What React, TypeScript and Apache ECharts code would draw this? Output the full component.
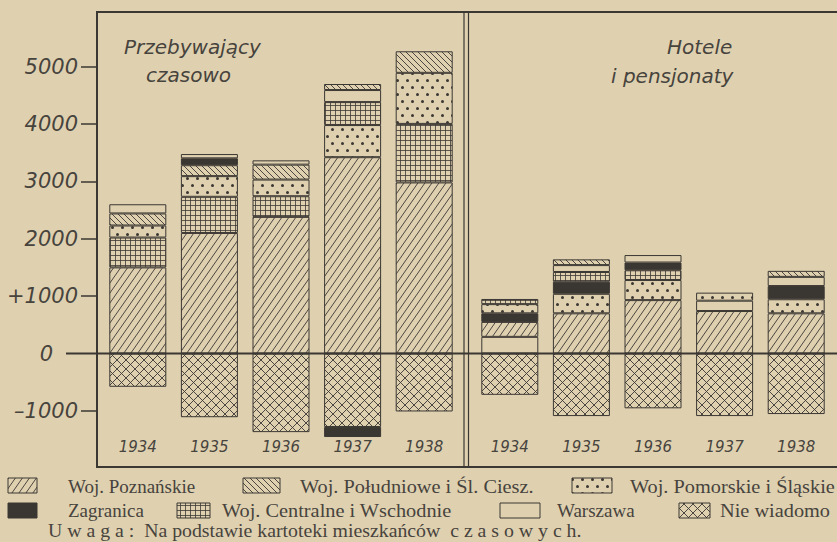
import React, { useEffect, useRef } from 'react';
import * as echarts from 'echarts';

// ---------- data ----------
const years = ['1934', '1935', '1936', '1937', '1938'];

const categoryLabels: Record<string, string> = {
  poz: 'Woj. Poznańskie',
  pol: 'Woj. Południowe i Śl. Ciesz.',
  pom: 'Woj. Pomorskie i Śląskie',
  zag: 'Zagranica',
  cen: 'Woj. Centralne i Wschodnie',
  war: 'Warszawa',
  nie: 'Nie wiadomo',
};

// "Przebywający czasowo": layers from the zero line upward
const temporary1934 = [['poz', 1500], ['cen', 520], ['pom', 210], ['pol', 210], ['war', 160]];
const temporary1935 = [['poz', 2100], ['cen', 630], ['pom', 360], ['pol', 190], ['zag', 120], ['war', 75]];
const temporary1936 = [['poz', 2380], ['cen', 360], ['pom', 290], ['pol', 260], ['war', 75]];
const temporary1937 = [['poz', 3420], ['pom', 560], ['cen', 400], ['war', 210], ['pol', 105]];
const temporary1938 = [['poz', 2980], ['cen', 1020], ['pom', 890], ['pol', 375]];
// below zero, from the zero line downward
const temporaryUnknown = [-580, -1110, -1370, -1280, -1010];
const temporaryAbroadBelow = [0, 0, 0, -175, 0];

// "Hotele i pensjonaty"
const hotels1934 = [['war', 290], ['poz', 260], ['zag', 150], ['pom', 160], ['cen', 90]];
const hotels1935 = [['poz', 700], ['pom', 340], ['zag', 210], ['cen', 170], ['war', 120], ['pol', 100]];
const hotels1936 = [['poz', 930], ['pom', 350], ['cen', 170], ['zag', 135], ['war', 130]];
const hotels1937 = [['poz', 740], ['war', 180], ['pom', 140]];
const hotels1938 = [['poz', 700], ['pom', 245], ['zag', 230], ['war', 160], ['pol', 105]];
const hotelsUnknown = [-720, -1090, -955, -1090, -1055];

const yTickValues = [-1000, 0, 1000, 2000, 3000, 4000, 5000];

const PAPER = '#dfd1b0';
const INK = '#3b3733';
const TEXT = '#47433d';

function tile(w: number, h: number, draw: (c: CanvasRenderingContext2D) => void) {
  const c = document.createElement('canvas');
  c.width = w;
  c.height = h;
  const ctx = c.getContext('2d')!;
  ctx.fillStyle = PAPER;
  ctx.fillRect(0, 0, w, h);
  ctx.strokeStyle = INK;
  ctx.fillStyle = INK;
  draw(ctx);
  return { image: c, repeat: 'repeat', imageWidth: w, imageHeight: h } as any;
}

function makePatterns(): Record<string, any> {
  return {
    poz: tile(7, 10, (c) => {
      c.lineWidth = 0.9;
      c.beginPath();
      for (let k = -1; k <= 1; k++) {
        c.moveTo(k * 7, 10);
        c.lineTo((k + 1) * 7, 0);
      }
      c.stroke();
    }),
    pol: tile(6, 6, (c) => {
      c.lineWidth = 0.9;
      c.beginPath();
      for (let k = -1; k <= 1; k++) {
        c.moveTo(k * 6, 0);
        c.lineTo((k + 1) * 6, 6);
      }
      c.stroke();
    }),
    pom: tile(10, 14, (c) => {
      c.beginPath();
      c.arc(2.5, 3.5, 1.5, 0, Math.PI * 2);
      c.fill();
      c.beginPath();
      c.arc(7.5, 10.5, 1.5, 0, Math.PI * 2);
      c.fill();
    }),
    cen: tile(5, 5, (c) => {
      c.lineWidth = 0.8;
      c.beginPath();
      c.moveTo(0.5, 0);
      c.lineTo(0.5, 5);
      c.moveTo(0, 0.5);
      c.lineTo(5, 0.5);
      c.stroke();
    }),
    zag: '#3a3632',
    war: PAPER,
    nie: tile(9, 9, (c) => {
      c.lineWidth = 0.9;
      c.beginPath();
      for (let k = -1; k <= 1; k++) {
        c.moveTo(k * 9, 0);
        c.lineTo(k * 9 + 9, 9);
        c.moveTo(k * 9, 9);
        c.lineTo(k * 9 + 9, 0);
      }
      c.stroke();
    }),
  };
}

export default function App() {
  const ref = useRef<HTMLDivElement>(null);

  useEffect(() => {
    document.body.style.margin = '0';
    const chart = echarts.init(ref.current!, null, { renderer: 'svg' });
    const patterns = makePatterns();

    const panels = [
      { stacks: [temporary1934, temporary1935, temporary1936, temporary1937, temporary1938], below: [['nie', temporaryUnknown], ['zag', temporaryAbroadBelow]] },
      { stacks: [hotels1934, hotels1935, hotels1936, hotels1937, hotels1938], below: [['nie', hotelsUnknown]] },
    ];

    const series: any[] = [];
    panels.forEach((panel, p) => {
      const maxLayers = Math.max(...panel.stacks.map((s) => s.length));
      for (let k = 0; k < maxLayers; k++) {
        series.push({
          type: 'bar',
          xAxisIndex: p,
          yAxisIndex: p,
          stack: 'panel' + p,
          barWidth: 57,
          silent: true,
          itemStyle: { borderColor: INK, borderWidth: 1 },
          data: panel.stacks.map((s) =>
            s[k] ? { value: s[k][1], name: categoryLabels[s[k][0] as string], itemStyle: { color: patterns[s[k][0] as string] } } : '-'
          ),
        });
      }
      panel.below.forEach(([key, values]) => {
        series.push({
          type: 'bar',
          xAxisIndex: p,
          yAxisIndex: p,
          stack: 'panel' + p,
          barWidth: 57,
          silent: true,
          itemStyle: { borderColor: INK, borderWidth: 1, color: patterns[key as string] },
          data: (values as number[]).map((v) => (v ? v : '-')),
        });
      });
    });

    const gridTop = 9.1;
    const gridHeight = 459.2;

    const yAxisBase = {
      type: 'value',
      min: -2000,
      max: 6000,
      interval: 1000,
      splitLine: { show: false },
      axisLine: { show: false },
    };

    const xAxisBase = {
      type: 'category',
      data: years,
      position: 'bottom',
      axisLine: { show: false, onZero: false },
      axisTick: { show: false },
      axisLabel: {
        inside: true,
        margin: 14,
        fontSize: 15,
        fontStyle: 'italic',
        fontFamily: 'DejaVu Sans',
        color: TEXT,
      },
    };

    const legendItems = [
      { key: 'poz', icon: [8, 478, 29, 15], text: [68, 486], sx: 1.0 },
      { key: 'pol', icon: [243, 478, 37, 15], text: [300, 486], sx: 1.07 },
      { key: 'pom', icon: [572, 478, 40, 15], text: [630, 486], sx: 1.07 },
      { key: 'zag', icon: [8, 503, 29, 15], text: [68, 510], sx: 1.0 },
      { key: 'cen', icon: [177, 503, 33, 15], text: [222, 510], sx: 1.07 },
      { key: 'war', icon: [500, 503, 40, 15], text: [557, 510], sx: 1.0 },
      { key: 'nie', icon: [679, 503, 31, 15], text: [720, 510], sx: 1.07 },
    ];

    const legendGraphics: any[] = [];
    legendItems.forEach((it) => {
      legendGraphics.push({
        type: 'rect',
        shape: { x: it.icon[0], y: it.icon[1], width: it.icon[2], height: it.icon[3] },
        style: { fill: patterns[it.key], stroke: INK, lineWidth: 1 },
        silent: true,
      });
      legendGraphics.push({
        type: 'text',
        x: it.text[0],
        y: it.text[1],
        scaleX: it.sx,
        style: {
          text: categoryLabels[it.key],
          fontFamily: 'Liberation Serif',
          fontSize: 19,
          fill: TEXT,
          verticalAlign: 'middle',
        },
        silent: true,
      });
    });
    legendGraphics.push({
      type: 'text',
      x: 48,
      y: 531,
      scaleX: 1.1,
      style: {
        text: 'U w a g a :  Na podstawie kartoteki mieszkańców  c z a s o w y c h.',
        fontFamily: 'Liberation Serif',
        fontSize: 18,
        fill: TEXT,
        verticalAlign: 'middle',
      },
      silent: true,
    });

    const titleStyle = { fontFamily: 'DejaVu Sans', fontStyle: 'italic', fontSize: 20, fill: TEXT, verticalAlign: 'middle' };

    const buildGraphics = (y0: number) => [
      // frame
      { type: 'line', shape: { x1: 97, y1: 12, x2: 840, y2: 12 }, style: { stroke: INK, lineWidth: 2 }, silent: true },
      { type: 'line', shape: { x1: 97, y1: 467, x2: 840, y2: 467 }, style: { stroke: INK, lineWidth: 2 }, silent: true },
      { type: 'line', shape: { x1: 97, y1: 11, x2: 97, y2: 468 }, style: { stroke: INK, lineWidth: 2 }, silent: true },
      { type: 'line', shape: { x1: 464, y1: 12, x2: 464, y2: 467 }, style: { stroke: INK, lineWidth: 1.2 }, silent: true },
      { type: 'line', shape: { x1: 468.5, y1: 12, x2: 468.5, y2: 467 }, style: { stroke: INK, lineWidth: 1.2 }, silent: true },
      // zero line
      { type: 'line', shape: { x1: 66, y1: y0, x2: 840, y2: y0 }, style: { stroke: INK, lineWidth: 2.2 }, silent: true, z: 10 },
      // panel titles
      { type: 'text', x: 124, y: 47, style: { ...titleStyle, text: 'Przebywający' }, silent: true },
      { type: 'text', x: 146, y: 75, style: { ...titleStyle, text: 'czasowo' }, silent: true },
      { type: 'text', x: 667, y: 47, style: { ...titleStyle, text: 'Hotele' }, silent: true },
      { type: 'text', x: 611, y: 76, style: { ...titleStyle, text: 'i pensjonaty' }, silent: true },
      ...legendGraphics,
    ];

    const option: any = {
      animation: false,
      backgroundColor: PAPER,
      grid: [
        { left: 102, width: 358, top: gridTop, height: gridHeight },
        { left: 474, width: 358, top: gridTop, height: gridHeight },
      ],
      xAxis: [
        { ...xAxisBase, gridIndex: 0 },
        { ...xAxisBase, gridIndex: 1 },
      ],
      yAxis: [
        {
          ...yAxisBase,
          gridIndex: 0,
          offset: 5,
          axisTick: {
            show: true,
            length: 16,
            customValues: yTickValues.filter((v) => v !== 0),
            lineStyle: { color: INK, width: 1.5 },
          },
          axisLabel: {
            customValues: yTickValues,
            margin: 19,
            fontSize: 21,
            fontStyle: 'italic',
            fontFamily: 'DejaVu Sans',
            color: TEXT,
            formatter: (v: number) =>
              v === 0 ? '{z|0}' : v < 0 ? '\u2013' + String(-v) : v === 1000 ? '+' + v : String(v),
            rich: {
              z: { padding: [0, 25, 0, 0], fontSize: 21, fontStyle: 'italic', fontFamily: 'DejaVu Sans', color: TEXT },
            },
          },
        },
        {
          ...yAxisBase,
          gridIndex: 1,
          axisTick: { show: false },
          axisLabel: { show: false },
        },
      ],
      series,
    };

    chart.setOption(option);
    const y0 = chart.convertToPixel({ yAxisIndex: 0 }, 0) as number;
    chart.setOption({ graphic: buildGraphics(y0) });

    return () => chart.dispose();
  }, []);

  return (
    <div
      ref={ref}
      style={{ position: 'fixed', left: 0, top: 0, width: 837, height: 542, background: PAPER }}
    />
  );
}
